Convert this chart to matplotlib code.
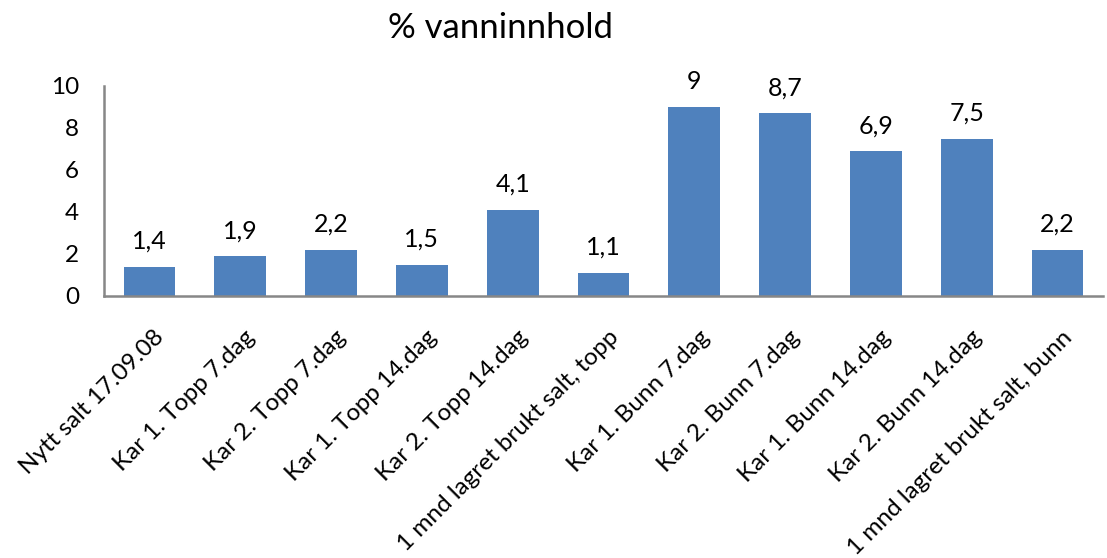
import matplotlib.pyplot as plt
import matplotlib.transforms as mtransforms
import numpy as np

kategorier = [
    "Nytt salt 17.09.08",
    "Kar 1. Topp 7.dag",
    "Kar 2. Topp 7.dag",
    "Kar 1. Topp 14.dag",
    "Kar 2. Topp 14.dag",
    "1 mnd lagret brukt salt, topp",
    "Kar 1. Bunn 7.dag",
    "Kar 2. Bunn 7.dag",
    "Kar 1. Bunn 14.dag",
    "Kar 2. Bunn 14.dag",
    "1 mnd lagret brukt salt, bunn",
]
vanninnhold = [1.4, 1.9, 2.2, 1.5, 4.1, 1.1, 9, 8.7, 6.9, 7.5, 2.2]
y_ticks = [0, 2, 4, 6, 8, 10]


def main():
    plt.rcParams['font.family'] = ['Lato', 'DejaVu Sans']
    fig = plt.figure(figsize=(11.07, 5.58), dpi=100)
    ax = fig.add_axes([104 / 1107, 1 - 296 / 558, 999 / 1107, 210 / 558])

    x = np.arange(len(kategorier))
    ax.bar(x, vanninnhold, width=0.57, color="#4F81BD")

    for xi, v in zip(x, vanninnhold):
        tekst = f"{v:g}".replace(".", ",")
        ax.annotate(tekst, (xi, v), xytext=(0, 10), textcoords="offset points",
                    ha="center", va="bottom", fontsize=18)

    ax.set_xlim(-0.5, len(kategorier) - 0.5)
    ax.set_ylim(0, 10)
    ax.set_yticks(y_ticks)
    ax.set_yticklabels([str(t) for t in y_ticks], fontsize=17.5)
    ax.set_xticks(x)
    ax.set_xticklabels(kategorier, rotation=45, ha="right", va="top",
                       rotation_mode="anchor", fontsize=17.5)
    ax.tick_params(axis="both", length=0)
    ax.tick_params(axis="y", pad=18)
    ax.tick_params(axis="x", pad=22)

    # flytt etikettene litt mot høyre
    skift = mtransforms.ScaledTranslation(4 / 100, 0, fig.dpi_scale_trans)
    for lbl in ax.get_xticklabels():
        lbl.set_transform(lbl.get_transform() + skift)

    for side in ["top", "right"]:
        ax.spines[side].set_visible(False)
    for side in ["left", "bottom"]:
        ax.spines[side].set_color("#878787")
        ax.spines[side].set_linewidth(1.8)

    fig.text(500 / 1107, 1 - 28 / 558, "% vanninnhold", ha="center",
             va="center", fontsize=25)

    fig.savefig("out.png", dpi=100)


if __name__ == "__main__":
    main()
